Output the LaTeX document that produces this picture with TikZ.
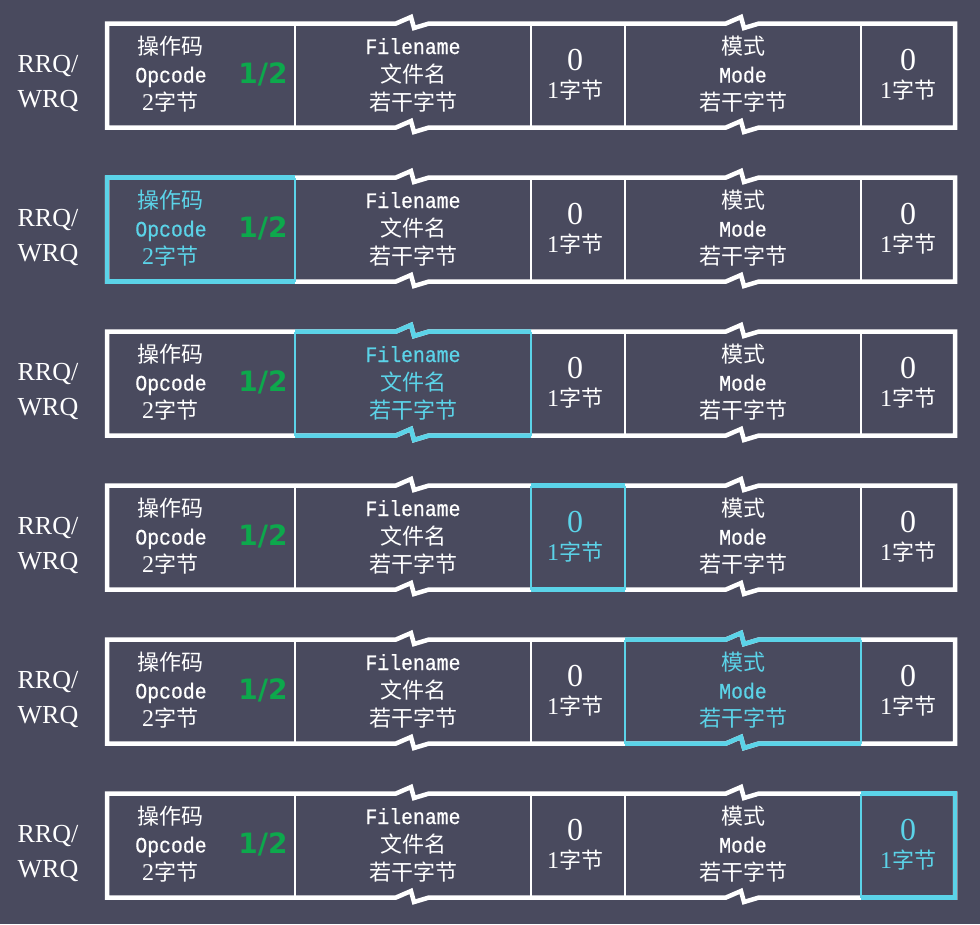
\documentclass[tikz,border=0pt]{standalone}
\usepackage{fontspec}
\setmainfont{Liberation Mono}[FakeStretch=0.9,FakeBold=0.5]
\newfontfamily\cjk{Noto Sans CJK SC}
\newfontfamily\ser{Liberation Serif}
\newfontfamily\bsans{DejaVu Sans}
\definecolor{bg}{HTML}{494A5E}
\definecolor{hl}{HTML}{5BD3E8}
\definecolor{gr}{HTML}{0DA84C}
\begin{document}
\begin{tikzpicture}[x=1pt,y=-1pt,
 outer/.style={draw=white,line width=4.5pt,miter limit=2.5},
 inner/.style={draw=white,line width=2.2pt},
 hlthick/.style={draw=hl,line width=4.5pt,miter limit=2.5},
 hlthin/.style={draw=hl,line width=2.6pt},
 cj/.style={font=\cjk\fontsize{22}{26}\selectfont, anchor=base, inner sep=0pt},
 la/.style={font=\fontsize{22}{24}\selectfont, anchor=base, inner sep=0pt},
 zero/.style={font=\ser\fontsize{32}{36}\selectfont, anchor=base, inner sep=0pt},
 half/.style={font=\bsans\bfseries\fontsize{28}{30}\selectfont, text=gr, anchor=base, inner sep=0pt},
 lab/.style={font=\ser\fontsize{26}{30}\selectfont, text=white, anchor=base, inner sep=0pt}]
\useasboundingbox (0,0) rectangle (980,924);
\fill[bg] (0,0) rectangle (980,924);
\foreach \i/\h in {1/0,2/1,3/2,4/3,5/4,6/5}{
 \pgfmathsetmacro\T{23.5+154*(\i-1)}
 \pgfmathsetmacro\B{\T+104}
 \def\ca{white}\def\cb{white}\def\cc{white}\def\cd{white}\def\ce{white}
 \ifcase\h\or\def\ca{hl}\or\def\cb{hl}\or\def\cc{hl}\or\def\cd{hl}\or\def\ce{hl}\fi
 % frame
 \draw[outer] (107,\T) -- (396,\T) -- (411,{\T-6.5}) -- (414,{\T+4.5}) -- (429,\T) -- (726,\T) -- (741,{\T-6.5}) -- (744,{\T+4.5}) -- (759,\T) -- (955,\T) -- (955,\B) -- (759,\B) -- (744,{\B+4.5}) -- (741,{\B-6.5}) -- (726,\B) -- (429,\B) -- (414,{\B+4.5}) -- (411,{\B-6.5}) -- (396,\B) -- (107,\B) -- cycle;
 \draw[inner] (295,\T) -- (295,\B) (531,\T) -- (531,\B) (625,\T) -- (625,\B) (861,\T) -- (861,\B);
 % highlight
 \ifcase\h
 \or
  \draw[hlthin] (295,\T) -- (295,\B);
  \draw[hlthick] (295,\T) -- (107,\T) -- (107,\B) -- (295,\B);
 \or
  \draw[hlthin] (295,\T) -- (295,\B) (531,\T) -- (531,\B);
  \draw[hlthick] (295,\T) -- (396,\T) -- (411,{\T-6.5}) -- (414,{\T+4.5}) -- (429,\T) -- (531,\T);
  \draw[hlthick] (295,\B) -- (396,\B) -- (411,{\B-6.5}) -- (414,{\B+4.5}) -- (429,\B) -- (531,\B);
 \or
  \draw[hlthin] (531,\T) -- (531,\B) (625,\T) -- (625,\B);
  \draw[hlthick] (531,\T) -- (625,\T) (531,\B) -- (625,\B);
 \or
  \draw[hlthin] (625,\T) -- (625,\B) (861,\T) -- (861,\B);
  \draw[hlthick] (625,\T) -- (726,\T) -- (741,{\T-6.5}) -- (744,{\T+4.5}) -- (759,\T) -- (861,\T);
  \draw[hlthick] (625,\B) -- (726,\B) -- (741,{\B-6.5}) -- (744,{\B+4.5}) -- (759,\B) -- (861,\B);
 \or
  \draw[hlthin] (861,\T) -- (861,\B);
  \draw[hlthick] (861,\T) -- (955,\T) -- (955,\B) -- (861,\B);
 \fi
 % labels
 \node[lab] (lba\i) at (48,{\T+48.5}) {RRQ/};
 \node[lab] (lbb\i) at (48,{\T+83.5}) {WRQ};
 % texts
 \node[cj,text=\ca] (opa\i) at (170,{\T+31}) {操作码};
 \node[la,text=\ca] (opb\i) at (171,{\T+59}) {Opcode};
 \node[cj,text=\ca] (opc\i) at (170,{\T+87}) {{\ser\fontsize{24}{26}\selectfont 2}字节};
 \node[half] (hf\i) at (263,{\T+59.5}) {1/2};
 \node[la,text=\cb] (fna\i) at (413,{\T+30.5}) {Filename};
 \node[cj,text=\cb] (fnb\i) at (413,{\T+59}) {文件名};
 \node[cj,text=\cb] (fnc\i) at (413,{\T+87}) {若干字节};
 \node[zero,text=\cc] (za\i) at (575,{\T+46.5}) {0};
 \node[cj,text=\cc] (zb\i) at (575,{\T+75}) {{\ser\fontsize{24}{26}\selectfont 1}字节};
 \node[cj,text=\cd] (ma\i) at (743,{\T+31}) {模式};
 \node[la,text=\cd] (mb\i) at (743,{\T+59}) {Mode};
 \node[cj,text=\cd] (mc\i) at (743,{\T+87}) {若干字节};
 \node[zero,text=\ce] (ea\i) at (908,{\T+46.5}) {0};
 \node[cj,text=\ce] (eb\i) at (908,{\T+75}) {{\ser\fontsize{24}{26}\selectfont 1}字节};
}
\end{tikzpicture}
\end{document}
